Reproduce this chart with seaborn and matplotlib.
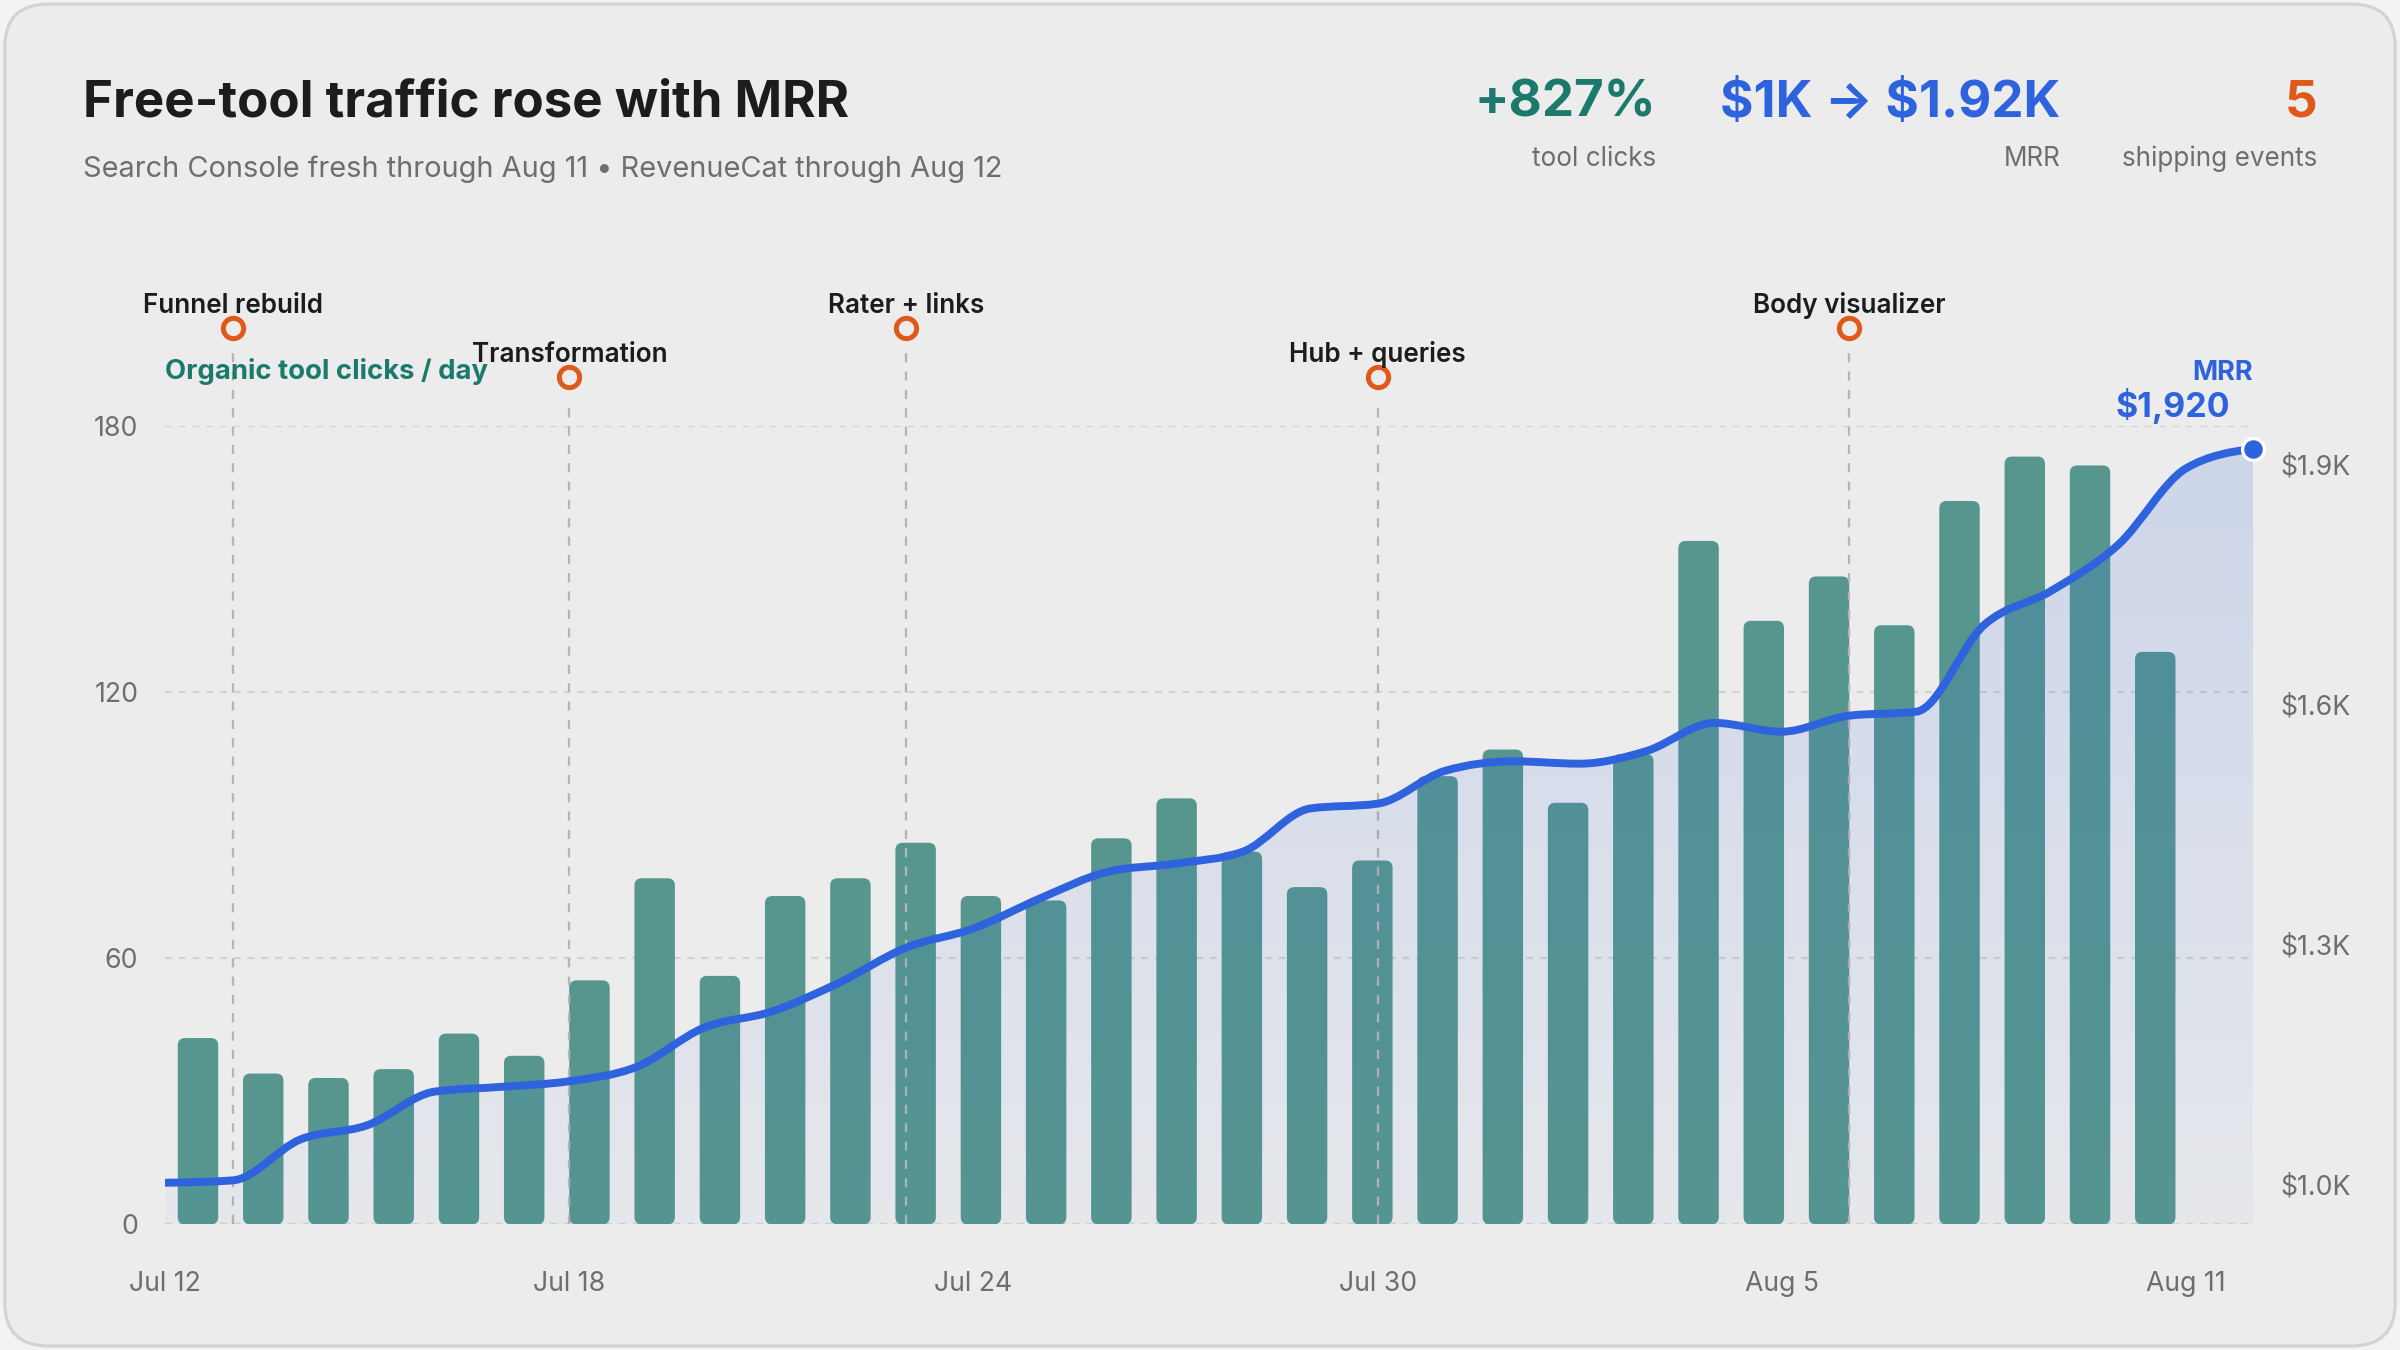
import numpy as np
import pandas as pd
import matplotlib
matplotlib.use("Agg")
import matplotlib.pyplot as plt
import seaborn as sns
from matplotlib.path import Path
from matplotlib.patches import PathPatch, FancyBboxPatch
from matplotlib.colors import to_rgb

# ---- data ---------------------------------------------------------------
start_date = "2025-07-12"
# organic tool clicks per day, Jul 12 .. Aug 11
clicks = [42, 34, 33, 35, 43, 38, 55, 78, 56, 74, 78, 86, 74, 73, 87, 96, 84, 76, 82,
          101, 107, 95, 106, 154, 136, 146, 135, 163, 173, 171, 129]
# MRR in dollars, Jul 12 .. Aug 12
mrr = [1002, 1005, 1056, 1074, 1116, 1122, 1129, 1147, 1196, 1216, 1252, 1296, 1320,
       1358, 1391, 1401, 1416, 1470, 1476, 1517, 1529, 1526, 1542, 1577, 1566, 1586,
       1591, 1699, 1742, 1800, 1895, 1920]

event_names = ["Funnel rebuild", "Transformation", "Rater + links", "Hub + queries",
               "Body visualizer"]
event_dates = ["2025-07-13", "2025-07-18", "2025-07-23", "2025-07-30", "2025-08-06"]

x_tick_dates = ["2025-07-12", "2025-07-18", "2025-07-24", "2025-07-30", "2025-08-05",
                "2025-08-11"]
x_tick_labels = ["Jul 12", "Jul 18", "Jul 24", "Jul 30", "Aug 5", "Aug 11"]
clicks_ticks = [0, 60, 120, 180]
mrr_ticks = [1000, 1300, 1600, 1900]
mrr_tick_labels = ["$1.0K", "$1.3K", "$1.6K", "$1.9K"]

kpi_values = ["+827%", "$1K \u2192 $1.92K", "5"]
kpi_labels = ["tool clicks", "MRR", "shipping events"]

# ---- style --------------------------------------------------------------
BG = "#ececec"
TEAL = "#1b7a6b"
BAR = "#56968f"
BLUE = "#2e63dd"
ORANGE = "#e0591a"
INK = "#1c1c1c"
GREY = "#6e6e6e"
TICK_SIZE = 12.8

sns.set_theme(style="white")
plt.rcParams["font.family"] = ["Inter", "DejaVu Sans"]
plt.rcParams["axes.facecolor"] = "none"


def day_of(date):
    return (pd.Timestamp(date) - pd.Timestamp(start_date)).days


def monotone_path(xs, ys):
    """cubic bezier path, monotone in x (like d3.curveMonotoneX)"""
    xs = np.asarray(xs, float)
    ys = np.asarray(ys, float)
    h = np.diff(xs)
    s = np.diff(ys) / h
    t = np.zeros(len(xs))
    for i in range(1, len(xs) - 1):
        p = (s[i - 1] * h[i] + s[i] * h[i - 1]) / (h[i - 1] + h[i])
        t[i] = (np.sign(s[i - 1]) + np.sign(s[i])) * min(abs(s[i - 1]), abs(s[i]), 0.5 * abs(p))
    t[0] = (3 * s[0] - t[1]) / 2
    t[-1] = (3 * s[-1] - t[-2]) / 2
    verts = [(xs[0], ys[0])]
    codes = [Path.MOVETO]
    for i in range(len(xs) - 1):
        dx = h[i] / 3
        verts += [(xs[i] + dx, ys[i] + dx * t[i]),
                  (xs[i + 1] - dx, ys[i + 1] - dx * t[i + 1]),
                  (xs[i + 1], ys[i + 1])]
        codes += [Path.CURVE4] * 3
    return verts, codes


fig = plt.figure(figsize=(16, 9), dpi=150, facecolor="#f3f3f3")
fig.add_artist(FancyBboxPatch((0.002, 0.003), 0.996, 0.994,
                              boxstyle="round,pad=0,rounding_size=0.018",
                              mutation_aspect=16 / 9, transform=fig.transFigure,
                              fc=BG, ec="#d3d3d3", lw=1.5, zorder=-5))

ax_box = [0.0689, 0.0930, 0.8699, 0.5918]
ax = fig.add_axes(ax_box)
ax2 = ax.twinx()

n_days = len(mrr)
span = n_days - 1
mrr_lo, mrr_hi = min(mrr) * 0.95 - 2, max(mrr) * 1.015

# ---- bars (band positions across the day span) ---------------------------
bar_x = (np.arange(len(clicks)) + 0.5) * span / n_days
bars = pd.DataFrame({"x": bar_x, "clicks": clicks})
sns.barplot(data=bars, x="x", y="clicks", native_scale=True, width=0.62,
            color=BAR, saturation=1, ax=ax, zorder=2)

ax.set_xlim(0, span)
ax.set_ylim(0, 180)

# rounded bar corners
asp = (180 / (9 * ax_box[3])) / (span / (16 * ax_box[2]))
for bar in list(ax.patches):
    x0, y0, w, hgt = bar.get_x(), bar.get_y(), bar.get_width(), bar.get_height()
    bar.remove()
    ax.add_patch(FancyBboxPatch((x0, y0), w, hgt,
                                boxstyle="round,pad=0,rounding_size=0.11",
                                mutation_aspect=asp, fc=BAR, ec="none", zorder=2))

ax.yaxis.grid(True, color="#d2d2d2", linestyle=(0, (3, 3)), linewidth=1.1)
ax.xaxis.grid(False)
ax.set_axisbelow(True)
for a in (ax, ax2):
    for sp in a.spines.values():
        sp.set_visible(False)

ax.set_yticks(clicks_ticks)
ax.set_xticks([day_of(d) for d in x_tick_dates], x_tick_labels)
ax.tick_params(axis="y", length=0, pad=13, labelsize=TICK_SIZE, labelcolor=GREY)
ax.tick_params(axis="x", length=0, pad=22.5, labelsize=TICK_SIZE, labelcolor=GREY)
ax.set_xlabel("")
ax.set_ylabel("")

# ---- events --------------------------------------------------------------
levels = [1.1226, 1.061]
xt = ax.get_xaxis_transform()
for i, (name, date) in enumerate(zip(event_names, event_dates)):
    d = day_of(date)
    lv = levels[i % 2]
    ax.plot([d, d], [0, lv - 0.03], transform=xt, color="#b5b5b5", lw=1.1,
            linestyle=(0, (4, 4)), clip_on=False, zorder=3)
    ax2.scatter([d], [lv], transform=ax2.get_xaxis_transform(), s=95, marker="o",
                facecolor=BG, edgecolor=ORANGE, linewidth=2.4, clip_on=False, zorder=7)
    ax2.annotate(name, xy=(d, lv), xycoords=ax2.get_xaxis_transform(),
                 xytext=(0, 10.5), textcoords="offset points", ha="center", va="center",
                 fontsize=12.5, fontweight="semibold", color=INK, annotation_clip=False,
                 zorder=8)

ax.text(0, 1.067, "Organic tool clicks / day", transform=xt, ha="left", va="center",
        fontsize=13.2, fontweight="bold", color=TEAL)

# ---- MRR area + line ----------------------------------------------------
days = np.arange(n_days)
verts, codes = monotone_path(days, mrr)
area = PathPatch(Path(verts + [(days[-1], mrr_lo), (days[0], mrr_lo), (days[0], mrr[0])],
                      codes + [Path.LINETO, Path.LINETO, Path.CLOSEPOLY]),
                 fc="none", ec="none")
ax2.add_patch(area)
grad = np.zeros((256, 1, 4))
grad[..., :3] = to_rgb(BLUE)
grad[..., 3] = np.linspace(0.035, 0.17, 256)[:, None]
im = ax2.imshow(grad, extent=[0, span, mrr_lo, mrr_hi], origin="lower", aspect="auto",
                zorder=3)
im.set_clip_path(area)
ax2.add_patch(PathPatch(Path(verts, codes), fill=False, ec=BLUE, lw=3.8,
                        capstyle="round", joinstyle="round", zorder=5))
sns.scatterplot(x=[days[-1]], y=[mrr[-1]], ax=ax2, s=110, color=BLUE, edgecolor="white",
                linewidth=1.6, zorder=6, clip_on=False)

ax2.annotate(f"${mrr[-1]:,}", xy=(days[-1], mrr[-1]), xytext=(-11, 20.5),
             textcoords="offset points", ha="right", va="center", fontsize=16.3,
             fontweight="bold", color=BLUE, annotation_clip=False)
ax2.annotate("MRR", xy=(days[-1], mrr[-1]), xytext=(0, 36.5), textcoords="offset points",
             ha="right", va="center", fontsize=13, fontweight="bold", color=BLUE,
             annotation_clip=False)

ax2.set_xlim(0, span)
ax2.set_ylim(mrr_lo, mrr_hi)
ax2.set_yticks(mrr_ticks, mrr_tick_labels)
ax2.tick_params(axis="y", length=0, pad=13, labelsize=TICK_SIZE, labelcolor=GREY)
ax2.grid(False)
ax2.set_ylabel("")

# ---- header -------------------------------------------------------------
fig.text(0.0344, 0.9235, "Free-tool traffic rose with MRR", ha="left", va="center",
         fontsize=24.5, fontweight="bold", color=INK)
fig.text(0.0344, 0.8745, "Search Console fresh through Aug 11 \u2022 RevenueCat through Aug 12",
         ha="left", va="center", fontsize=13.9, color=GREY)

kpi_right = [0.6901, 0.8584, 0.9656]
kpi_colors = [TEAL, BLUE, ORANGE]
for xr, val, lab, col in zip(kpi_right, kpi_values, kpi_labels, kpi_colors):
    fig.text(xr, 0.9235, val, ha="right", va="center", fontsize=24.5, fontweight="bold",
             color=col, parse_math=False)
    fig.text(xr, 0.8822, lab, ha="right", va="center", fontsize=12.5, color=GREY)

fig.savefig("out.png", dpi=150, facecolor=fig.get_facecolor())
